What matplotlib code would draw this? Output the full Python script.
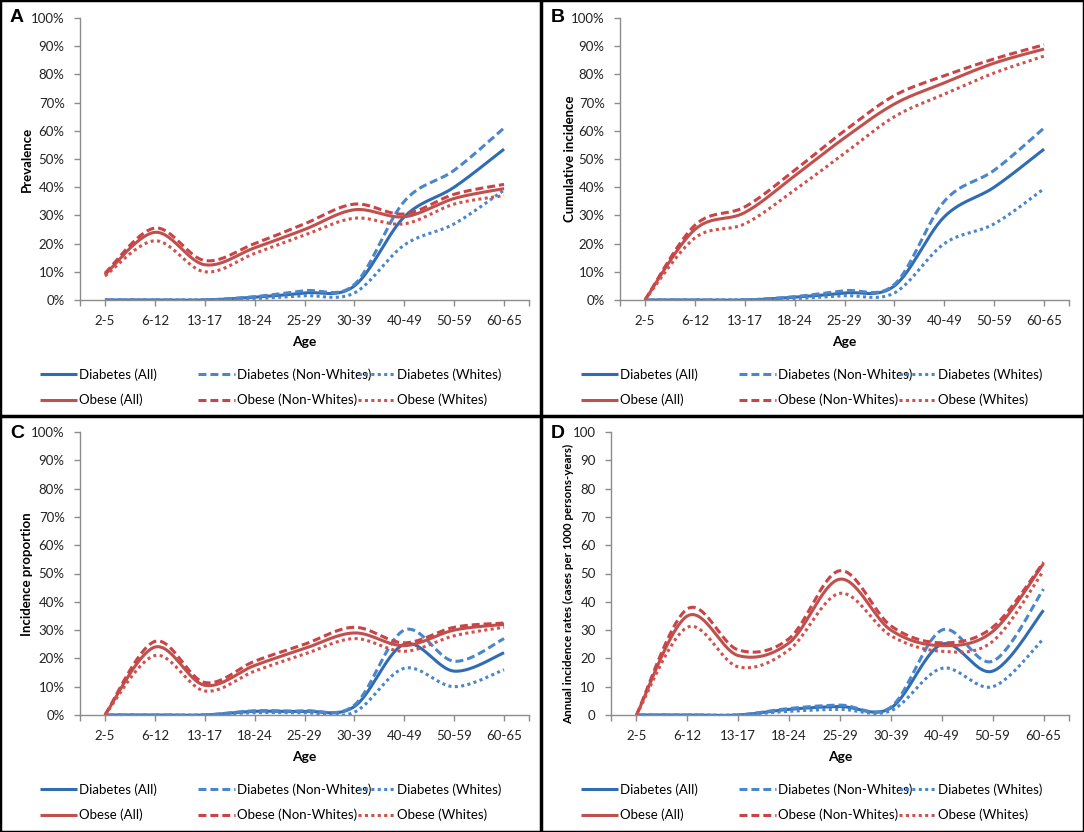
import matplotlib
matplotlib.use('Agg')
import matplotlib.pyplot as plt
from matplotlib.lines import Line2D
import numpy as np

plt.rcParams['font.family'] = ['Lato', 'DejaVu Sans']

ages = ['2-5', '6-12', '13-17', '18-24', '25-29', '30-39', '40-49', '50-59', '60-65']

# A: prevalence (%)
a_dia_all = [0, 0, 0, 1.0, 2.5, 5.0, 29.5, 40, 53.5]
a_dia_nw = [0, 0, 0, 1.2, 3.3, 5.5, 35, 46, 61]
a_dia_w = [0, 0, 0, 0.5, 1.5, 2.5, 19.5, 27, 39]
a_ob_all = [9, 24, 12.5, 18.5, 25, 32, 29.5, 36, 39.5]
a_ob_nw = [9.5, 25.5, 14, 20, 27, 34, 30.5, 37.5, 41]
a_ob_w = [8.5, 21, 10, 16.5, 23, 29, 27, 34, 37]

# B: cumulative incidence (%)
b_dia_all = [0, 0, 0, 1.0, 2.5, 5.0, 29.5, 40, 53.5]
b_dia_nw = [0, 0, 0, 1.2, 3.3, 5.5, 35, 46, 61]
b_dia_w = [0, 0, 0, 0.5, 1.5, 2.5, 20, 27, 39.5]
b_ob_all = [0, 25, 31, 44, 57.5, 69.5, 77, 84, 89]
b_ob_nw = [0, 26.5, 33, 46, 60, 72.5, 79.5, 85.5, 90.5]
b_ob_w = [0, 22, 27, 39, 52, 65, 73, 80.5, 86.5]

# C: incidence proportion (%)
c_dia_all = [0, 0, 0, 1.3, 1.3, 3.0, 25, 15.5, 22]
c_dia_nw = [0, 0, 0, 1.5, 1.5, 3.5, 30, 19, 27]
c_dia_w = [0, 0, 0, 0.8, 0.8, 1.0, 16.5, 10, 16]
c_ob_all = [0, 24, 10.5, 17.5, 23.5, 29, 24.5, 30, 32]
c_ob_nw = [0, 26, 11.5, 19, 25, 31, 25.5, 31, 32.5]
c_ob_w = [0, 21, 8.5, 15.5, 21.5, 27, 22.5, 28, 31]

# D: annual incidence rates (per 1000 person-years)
d_dia_all = [0, 0, 0, 2.0, 3.0, 2.5, 25, 15.5, 37]
d_dia_nw = [0, 0, 0, 2.3, 3.5, 2.8, 30, 19, 44.5]
d_dia_w = [0, 0, 0, 1.3, 2.0, 1.5, 16.5, 10, 27]
d_ob_all = [0, 35, 21, 25.5, 48, 30, 24.5, 29.5, 53.5]
d_ob_nw = [0, 37.5, 23, 27, 51, 31.5, 25.5, 31, 54]
d_ob_w = [0, 31, 17, 23, 43, 28, 22.5, 26, 51]

pct_labels = ['0%', '10%', '20%', '30%', '40%', '50%', '60%', '70%', '80%', '90%', '100%']
num_labels = ['0', '10', '20', '30', '40', '50', '60', '70', '80', '90', '100']

names = ['Diabetes (All)', 'Diabetes (Non-Whites)', 'Diabetes (Whites)',
         'Obese (All)', 'Obese (Non-Whites)', 'Obese (Whites)']

blue = ['#2f6cb4', '#4a86cc', '#4a86cc']
red = ['#c0504d', '#c84446', '#d0524f']
styles = ['-', (0, (2.6, 1.3)), (0, (1, 1.1))]

W, H = 1084, 832


def smooth(y, n=30):
    # excel style smoothed line (catmull-rom -> bezier)
    p = np.column_stack([np.arange(len(y), dtype=float), np.array(y, dtype=float)])
    t = np.linspace(0, 1, n)[:, None]
    out = []
    for i in range(len(p) - 1):
        p0 = p[i - 1] if i > 0 else p[i]
        p3 = p[i + 2] if i + 2 < len(p) else p[i + 1]
        c1 = p[i] + (p[i + 1] - p0) / 6
        c2 = p[i + 1] - (p3 - p[i]) / 6
        seg = (1 - t)**3 * p[i] + 3 * (1 - t)**2 * t * c1 + 3 * (1 - t) * t**2 * c2 + t**3 * p[i + 1]
        out.append(seg if i == 0 else seg[1:])
    s = np.vstack(out)
    return s[:, 0], s[:, 1]


# letter, ylabel, series, tick labels, panel left, panel top, axes left, axes top, axes bottom,
# ylabel centre (x px, y px)
panels = [
    ('A', 'Prevalence', [a_dia_all, a_dia_nw, a_dia_w, a_ob_all, a_ob_nw, a_ob_w], pct_labels,
     0, 0, 80, 18, 300, 27, 159),
    ('B', 'Cumulative incidence', [b_dia_all, b_dia_nw, b_dia_w, b_ob_all, b_ob_nw, b_ob_w], pct_labels,
     541, 0, 620, 18, 300, 570, 159),
    ('C', 'Incidence proportion', [c_dia_all, c_dia_nw, c_dia_w, c_ob_all, c_ob_nw, c_ob_w], pct_labels,
     0, 416, 80, 432, 715, 27, 574),
    ('D', 'Annual incidence rates (cases per 1000 persons-years)',
     [d_dia_all, d_dia_nw, d_dia_w, d_ob_all, d_ob_nw, d_ob_w], num_labels,
     541, 416, 611, 432, 715, 569, 584),
]

fig = plt.figure(figsize=(W / 100, H / 100), dpi=100)

for letter, ylab, series, ylabels, px0, py0, left, top, bot, lx, ly in panels:
    right = px0 + 529 if px0 == 0 else 1069
    ax = fig.add_axes([left / W, 1 - bot / H, (right - left) / W, (bot - top) / H])
    handles = []
    for k, ys in enumerate(series):
        col = blue[k % 3] if k < 3 else red[k % 3]
        sx, sy = smooth(ys)
        ln, = ax.plot(sx, sy, color=col, linestyle=styles[k % 3], linewidth=2.2,
                      dash_capstyle='butt', solid_capstyle='butt')
        handles.append(ln)
    ax.set_xlim(-0.5, len(ages) - 0.5)
    ax.set_ylim(0, 100)
    ax.set_xticks(range(len(ages)))
    ax.set_xticklabels(ages)
    ax.set_xticks([-0.5, len(ages) - 0.5], minor=True)
    ax.set_yticks(range(0, 101, 10))
    ax.set_yticklabels(ylabels)
    for sp in ['top', 'right']:
        ax.spines[sp].set_visible(False)
    for sp in ['left', 'bottom']:
        ax.spines[sp].set_color('#8c8c8c')
        ax.spines[sp].set_linewidth(1)
    ax.tick_params(axis='both', which='both', colors='#8c8c8c', labelcolor='#222222',
                   labelsize=9.5, length=4, width=1)
    ax.tick_params(axis='y', pad=7)
    ax.tick_params(axis='x', pad=7)
    ax.set_xlabel('Age', fontsize=10, fontweight='bold', labelpad=6)
    ax.set_ylabel(ylab, fontsize=9.5 if letter != 'D' else 8.4, fontweight='bold', va='center')
    ax.yaxis.set_label_coords((lx - left) / (right - left), (bot - ly) / (bot - top))

    fig.text((px0 + 10) / W, 1 - (py0 + 9) / H, letter, fontsize=14, fontweight='bold',
             family='Liberation Sans', va='top', ha='left')

    # legend: three groups of two rows
    row1 = bot + 68
    for g, xoff in enumerate([40, 198, 358]):
        fig.legend([handles[g], handles[g + 3]], [names[g], names[g + 3]],
                   loc='upper left', bbox_to_anchor=((px0 + xoff) / W, 1 - row1 / H),
                   frameon=False, fontsize=9.5,
                   handlelength=2.8, handletextpad=0.15, borderpad=0, borderaxespad=0,
                   labelspacing=1.0)

# panel frame lines
for xs, ys in [([0, 1], [0, 0]), ([0, 1], [1, 1]), ([0, 0], [0, 1]), ([1, 1], [0, 1]),
               ([541 / W, 541 / W], [0, 1]), ([0, 1], [1 - 416 / H, 1 - 416 / H])]:
    fig.add_artist(Line2D(xs, ys, color='black', linewidth=2.5, transform=fig.transFigure))

plt.savefig('out.png', dpi=100)
